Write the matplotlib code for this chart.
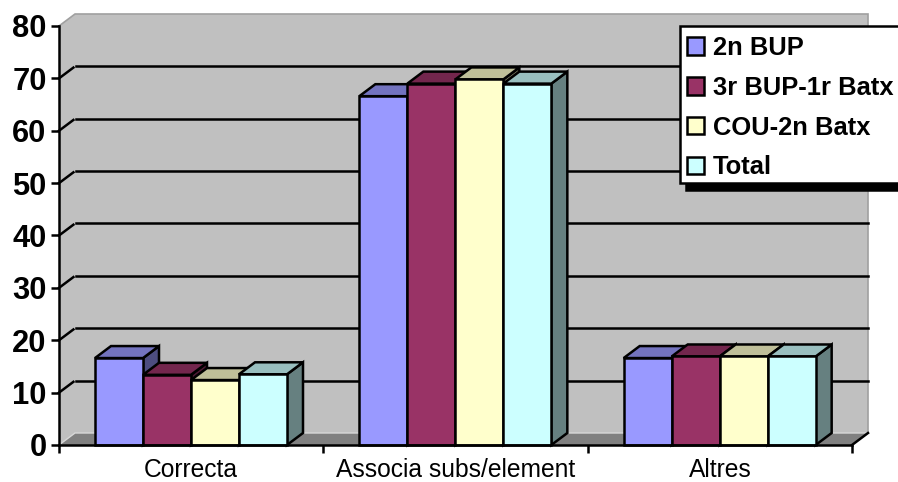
# Import packages
import numpy as np
import matplotlib.pyplot as plt
from matplotlib.colors import to_rgb
from matplotlib.patches import Patch, Polygon

plt.rcParams['font.family'] = ['Liberation Sans', 'DejaVu Sans']

# Data
#--------------------------------------------------------------------
categories = ['Correcta', 'Associa subs/element', 'Altres']
series_names = ['2n BUP', '3r BUP-1r Batx', 'COU-2n Batx', 'Total']
bup2 = [16.6, 66.6, 16.6]
bup3 = [13.4, 69.0, 16.9]
cou = [12.4, 69.8, 16.9]
total = [13.5, 69.0, 16.9]
y_ticks = [0, 10, 20, 30, 40, 50, 60, 70, 80]

series = [bup2, bup3, cou, total]
colors = ['#9999FF', '#993366', '#FFFFCC', '#CCFFFF']

# Figure and axes
#--------------------------------------------------------------------
W, H = 898, 482
fig = plt.figure(figsize=(W / 100, H / 100), dpi=100)
ax = fig.add_axes([59 / W, 1 - 445 / H, (852 - 59) / W, (445 - 26) / H])
ax.set_xlim(0, 3)
ax.set_ylim(0, 80)
ax.patch.set_alpha(0)

# Depth of the 3d box in data units
dx = 16 / (793 / 3)
dy = 12 / (419 / 80)
lw = 1.8

# Walls and floor
#--------------------------------------------------------------------
ax.add_patch(Polygon([(0, 0), (0, 80), (dx, 80 + dy), (3 + dx, 80 + dy), (3 + dx, dy), (3, 0)],
                     closed=True, fc='#C0C0C0', ec='none', clip_on=False, zorder=1))
ax.add_patch(Polygon([(0, 0), (dx, dy), (3 + dx, dy), (3, 0)],
                     closed=True, fc='#808080', ec='none', clip_on=False, zorder=1.1))
ax.plot([0, dx, 3 + dx, 3 + dx], [80, 80 + dy, 80 + dy, dy], color='#A0A0A0', lw=1.2,
        clip_on=False, zorder=1.2, solid_joinstyle='miter')
ax.plot([0, dx, 3 + dx], [0, dy, dy], color='#D8D8D8', lw=1.0, clip_on=False, zorder=1.2)
ax.plot([3, 3 + dx], [0, dy], color='black', lw=lw, clip_on=False, zorder=1.3)

# Gridlines run along the back wall, with a short slanted part on the left wall
for v in y_ticks[1:-1]:
    ax.plot([dx * 1.06, 3 + dx], [v + dy, v + dy], color='black', lw=lw, clip_on=False, zorder=1.3)
    ax.plot([0, dx * 0.9], [v, v + dy * 0.9], color='black', lw=lw, clip_on=False, zorder=1.3)

# Bars
#--------------------------------------------------------------------
bar_w = 48 / (793 / 3)
start = 36 / (793 / 3)
edge = dict(ec='black', lw=lw, joinstyle='miter', clip_on=False)
z = 2
for c in range(len(categories)):
    for s in range(len(series)):
        x0 = c + start + s * bar_w
        x1 = x0 + bar_w
        v = series[s][c]
        rgb = np.array(to_rgb(colors[s]))
        ax.add_patch(Polygon([(x1, 0), (x1 + dx, dy), (x1 + dx, v + dy), (x1, v)],
                             closed=True, fc=rgb * 0.5, zorder=z, **edge))
        ax.add_patch(Polygon([(x0, v), (x0 + dx, v + dy), (x1 + dx, v + dy), (x1, v)],
                             closed=True, fc=rgb * 0.75, zorder=z, **edge))
        ax.add_patch(Polygon([(x0, 0), (x1, 0), (x1, v), (x0, v)],
                             closed=True, fc=rgb, zorder=z + 0.1, **edge))
        z += 0.2

# Axes and tick labels
#--------------------------------------------------------------------
for side in ['top', 'right']:
    ax.spines[side].set_visible(False)
for side in ['left', 'bottom']:
    ax.spines[side].set_linewidth(lw)
    ax.spines[side].set_zorder(20)

ax.set_yticks(y_ticks)
ax.set_yticklabels(y_ticks, fontsize=22.2, fontweight='bold')
ax.tick_params(axis='y', length=5.5, width=lw, pad=3.5)
ax.set_xticks([0, 1, 2, 3])
ax.set_xticklabels([])
ax.tick_params(axis='x', which='major', length=5.5, width=lw)
ax.set_xticks([0.5, 1.5, 2.5], minor=True)
ax.set_xticklabels(categories, minor=True, fontsize=17.7)
ax.tick_params(axis='x', which='minor', length=0, pad=9.5)

# Legend
#--------------------------------------------------------------------
handles = [Patch(fc=colors[i], ec='black', lw=lw) for i in range(len(series_names))]
leg = ax.legend(handles, series_names, loc='upper left', bbox_to_anchor=(680 / W, 1 - 26 / H),
                bbox_transform=fig.transFigure, borderaxespad=0,
                prop={'weight': 'bold', 'size': 18.4}, fancybox=False, framealpha=1,
                edgecolor='black', handlelength=0.67, handleheight=0.67, handletextpad=0.36,
                labelspacing=0.62, borderpad=0.27,
                shadow={'ox': 4, 'oy': -5, 'shade': 1, 'alpha': 1})
leg.get_frame().set_linewidth(lw)
leg.set_zorder(30)

# Rows sit a little below the middle of the box
for t in leg.get_texts():
    t.set_position((0, -3))
for h in leg.legend_handles:
    h.set_y(h.get_y() - 2.2)

plt.savefig('out.png', dpi=100)
